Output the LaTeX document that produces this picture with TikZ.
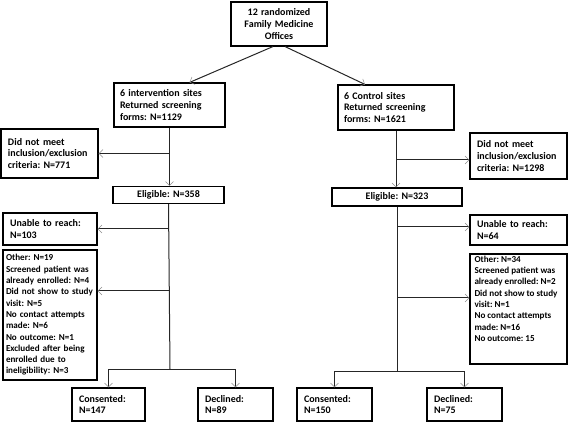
\documentclass[tikz,border=0pt]{standalone}
\usepackage{fontspec}
\setmainfont{Carlito}
\usepackage{tikz}
\usetikzlibrary{arrows.meta}
\frenchspacing

\begin{document}
\begin{tikzpicture}[x=1pt,y=-1pt,
		box/.style={draw,line width=1.1pt,align=left,inner xsep=7pt,inner ysep=2pt,
			font=\bfseries\fontsize{10}{11.7}\selectfont},
		small/.style={font=\bfseries\fontsize{9.1}{11.3}\selectfont},
		link/.style={draw=black!85,line width=1pt},
		arr/.style={link,-{Straight Barb[length=4pt,width=8pt,line width=0.5pt,color=black!45]}}]
		
		\useasboundingbox (0,0) rectangle (568,422);
		
		%--- randomization ---
		\node[box,align=center,text width=82pt,minimum height=44pt] (offices) at (279,24) {12 randomized\\Family Medicine\\Offices};
		
		%--- arms ---
		\node[box,inner xsep=6pt,text width=99pt,minimum height=44pt] (iv)  at (169.5,105) {6 intervention sites\\Returned screening\\forms: N=1129};
		\node[box,inner xsep=6pt,text width=104pt,minimum height=45pt] (ctl) at (396,107.5) {6 Control sites\\Returned screening\\forms: N=1621};
		
		% screening exclusions
		\node[box,text width=83pt,minimum height=49pt] (exL) at (49.5,153.5) {Did not meet\\inclusion/exclusion\\criteria: N=771};
		\node[box,text width=83pt,minimum height=46pt] (exR) at (518.5,156) {Did not meet\\inclusion/exclusion\\criteria: N=1298};
		
		% eligible
		\node[box,align=center,text width=97pt,minimum height=17pt] (eligL) at (168.5,195) {Eligible: N=358};
		\node[box,align=center,text width=116pt,minimum height=18pt] (eligR) at (397,197) {Eligible: N=323};
		
		% not reached / other
		\node[box,text width=80pt,minimum height=32pt] (unableL) at (50,229) {Unable to reach:\\N=103};
		\node[box,text width=83pt,minimum height=30pt] (unableR) at (518.5,230) {Unable to reach:\\N=64};
		\node[box,small,inner xsep=3pt,text width=88pt,minimum height=130pt] (otherL) at (50,315) {Other: N=19\\Screened patient was\\already enrolled: N=4\\Did not show to study\\visit: N=5\\No contact attempts\\made: N=6\\No outcome: N=1\\Excluded after being\\enrolled due to\\ineligibility: N=3};
		\node[box,small,inner xsep=4.5pt,minimum height=110pt] (otherR) at (518.5,309) {\parbox[c][106pt][t]{88pt}{\raggedright Other: N=34\\Screened patient was\\already enrolled: N=2\\Did not show to study\\visit: N=1\\No contact attempts\\made: N=16\\No outcome: 15}};
		
		% outcomes
		\node[box,text width=59pt,minimum height=33pt] (consL) at (108.5,404.5) {Consented:\\N=147};
		\node[box,text width=61pt,minimum height=33pt] (declL) at (235.5,404.5) {Declined:\\N=89};
		\node[box,text width=61pt,minimum height=33pt] (consR) at (334.5,404.5) {Consented:\\N=150};
		\node[box,text width=61pt,minimum height=33pt] (declR) at (464.5,404.5) {Declined:\\N=75};
		
		\coordinate (forkL) at (170,369);
		\coordinate (forkR) at (397,371);
		
		%--- connectors ---
		\draw[arr] ([xshift=-6pt]offices.south) -- ([xshift=20pt]iv.north);
		\draw[arr] ([xshift=6pt]offices.south) -- ([xshift=-31pt]ctl.north);
		
		% intervention arm
		\draw[arr] (iv.south) -- (iv.south |- eligL.north);
		\draw[arr] (exL.east -| iv.south) -- (exL.east);
		\draw[link] (eligL.south) -- (forkL);
		\draw[arr] (unableL.east -| eligL.south) -- (unableL.east);
		\draw[arr] ([yshift=24pt]otherL.east -| eligL.south) -- ([yshift=24pt]otherL.east);
		\draw[arr] (forkL) -| (consL.north);
		\draw[arr] (forkL) -| (declL.north);
		
		% control arm
		\draw[arr] (ctl.south) -- (ctl.south |- eligR.north);
		\draw[arr] ([yshift=-4pt]exR.west -| ctl.south) -- ([yshift=-4pt]exR.west);
		\draw[link] (eligR.south) -- (forkR);
		\draw[arr] ([yshift=3pt]unableR.west -| eligR.south) -- ([yshift=3pt]unableR.west);
		\draw[arr] ([yshift=11pt]otherR.west -| eligR.south) -- ([yshift=11pt]otherR.west);
		\draw[arr] (forkR) -| (consR.north);
		\draw[arr] (forkR) -| (declR.north);
		
	\end{tikzpicture}
\end{document}
